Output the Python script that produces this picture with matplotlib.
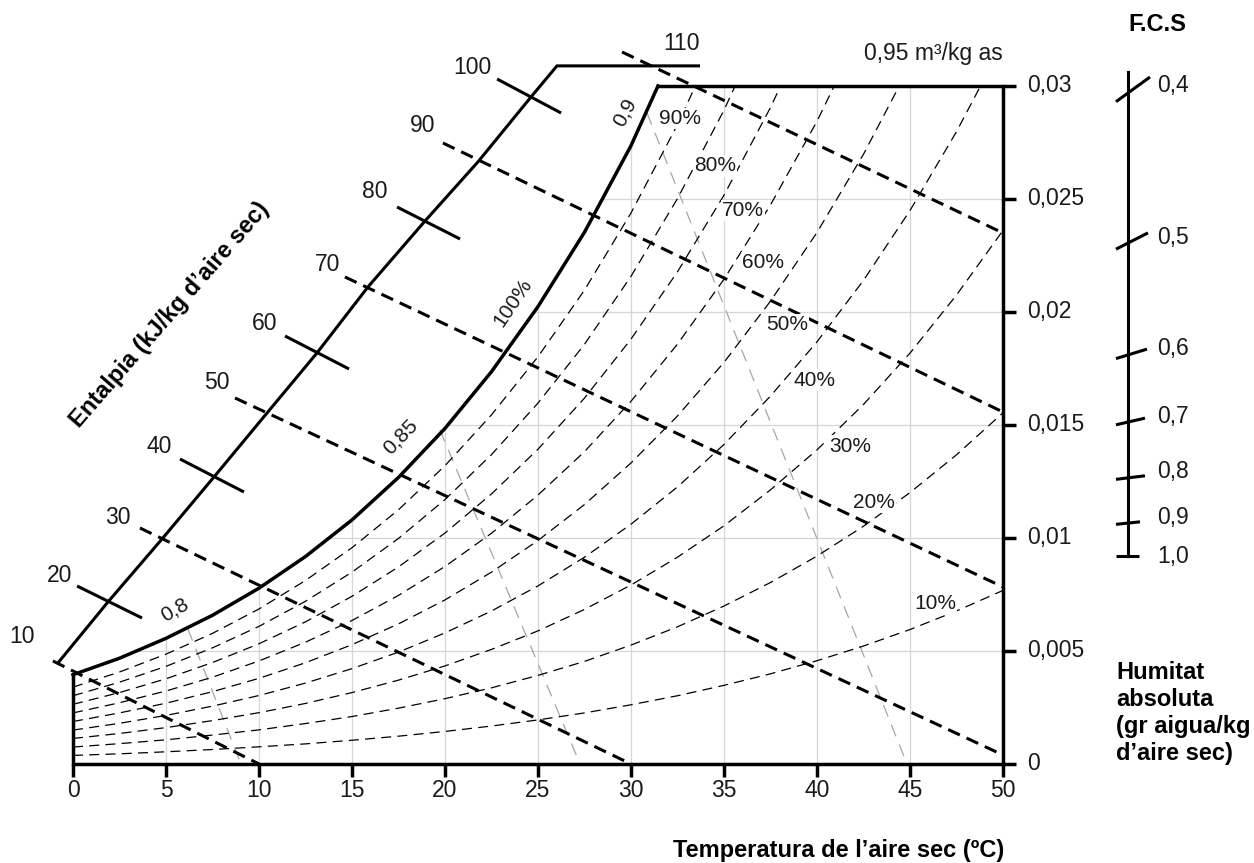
import matplotlib
matplotlib.use("Agg")
import matplotlib.pyplot as plt
from matplotlib.patches import Polygon
import numpy as np

plt.rcParams['font.family'] = ['Liberation Sans', 'DejaVu Sans']

# ---- data ----
# dry bulb temperature grid for the humidity curves (ºC)
t_grid = [0, 2.5, 5, 7.5, 10, 12.5, 15, 17.5, 20, 22.5, 25, 27.5, 30, 32.5, 35,
          37.5, 40, 42.5, 45, 47.5, 50]

# saturation curve (100%), absolute humidity kg/kg
sat_t = [0, 2.5, 5, 7.5, 10, 12.5, 15, 17.5, 20, 22.5, 25, 27.5, 30, 31.45]
sat_w = [0.00395, 0.00468, 0.00556, 0.00658, 0.00778, 0.00918, 0.01080, 0.01268,
         0.01485, 0.01736, 0.02024, 0.02353, 0.02736, 0.03000]

rh_labels = ['90%', '80%', '70%', '60%', '50%', '40%', '30%', '20%', '10%']
rh90 = [0.00340, 0.00407, 0.00486, 0.00578, 0.00686, 0.00812, 0.00957, 0.01125, 0.01320,
        0.01545, 0.01802, 0.02097, 0.02438, 0.02829, 0.03274]
rh80 = [0.00302, 0.00362, 0.00432, 0.00514, 0.00609, 0.00720, 0.00849, 0.00998, 0.01170,
        0.01369, 0.01597, 0.01857, 0.02158, 0.02502, 0.02893, 0.03342]
rh70 = [0.00264, 0.00316, 0.00377, 0.00449, 0.00532, 0.00629, 0.00742, 0.00872, 0.01022,
        0.01195, 0.01393, 0.01619, 0.01880, 0.02178, 0.02517, 0.02905, 0.03344]
rh60 = [0.00226, 0.00271, 0.00323, 0.00384, 0.00456, 0.00539, 0.00635, 0.00746, 0.00874,
        0.01021, 0.01190, 0.01382, 0.01605, 0.01858, 0.02145, 0.02474, 0.02844, 0.03266]
rh50 = [0.00188, 0.00226, 0.00269, 0.00320, 0.00379, 0.00448, 0.00528, 0.00620, 0.00726,
        0.00849, 0.00989, 0.01148, 0.01332, 0.01540, 0.01777, 0.02048, 0.02352, 0.02698,
        0.03091]
rh40 = [0.00150, 0.00180, 0.00215, 0.00256, 0.00303, 0.00358, 0.00422, 0.00495, 0.00580,
        0.00677, 0.00788, 0.00915, 0.01061, 0.01226, 0.01414, 0.01628, 0.01868, 0.02140,
        0.02449, 0.02798, 0.03189]
rh30 = [0.00113, 0.00135, 0.00161, 0.00192, 0.00227, 0.00268, 0.00316, 0.00371, 0.00434,
        0.00507, 0.00589, 0.00684, 0.00792, 0.00915, 0.01054, 0.01213, 0.01390, 0.01591,
        0.01818, 0.02075, 0.02361]
rh20 = [0.00075, 0.00090, 0.00107, 0.00128, 0.00151, 0.00179, 0.00210, 0.00247, 0.00289,
        0.00337, 0.00392, 0.00454, 0.00526, 0.00607, 0.00699, 0.00803, 0.00920, 0.01052,
        0.01201, 0.01368, 0.01554]
rh10 = [0.00038, 0.00045, 0.00054, 0.00064, 0.00076, 0.00089, 0.00105, 0.00123, 0.00144,
        0.00168, 0.00195, 0.00226, 0.00262, 0.00302, 0.00348, 0.00399, 0.00457, 0.00522,
        0.00595, 0.00677, 0.00768]
rh_curves = [rh90, rh80, rh70, rh60, rh50, rh40, rh30, rh20, rh10]

# enthalpy scale (kJ/kg d'aire sec)
scale_t = [-0.81, 1.88, 4.79, 7.58, 10.48, 13.12, 15.86, 18.93, 21.77, 24.62, 26.02, 33.71]
scale_w = [0.00447, 0.00717, 0.00996, 0.01270, 0.01558, 0.01819, 0.02111, 0.02403,
           0.02664, 0.02951, 0.03089, 0.03089]

enth_dashed = ['10', '30', '50', '70', '90', '110']
enth_t0 = [-1.08, 3.60, 8.71, 14.62, 19.89, 29.52]
enth_w0 = [0.004558, 0.010442, 0.016195, 0.021549, 0.027478, 0.031504]
enth_t1 = [10.0, 30.0, 50.0, 50.0, 50.0, 50.0]
enth_w1 = [0.0, 0.0, 0.000398, 0.007832, 0.015575, 0.023496]

enth_ticks = ['20', '40', '60', '80', '100']
tick_t0 = [0.22, 5.75, 11.40, 17.42, 22.80]
tick_w0 = [0.007876, 0.013496, 0.018938, 0.024646, 0.030310]
tick_t1 = [3.71, 9.19, 14.84, 20.81, 26.24]
tick_w1 = [0.006460, 0.012035, 0.017478, 0.023230, 0.028805]

# specific volume lines (m3/kg aire sec)
vol_labels = ['0,8', '0,85', '0,9']
vol_t0 = [6.18, 19.73, 30.86]
vol_w0 = [0.005973, 0.014779, 0.028805]
vol_t1 = [9.03, 27.26, 44.84]
vol_w1 = [0.0, 0.0, 0.0]

# axes
x_ticks = [0, 5, 10, 15, 20, 25, 30, 35, 40, 45, 50]
y_ticks = [0, 0.005, 0.01, 0.015, 0.02, 0.025, 0.03]
y_ticklabels = ['0', '0,005', '0,01', '0,015', '0,02', '0,025', '0,03']

# sensible heat factor scale
fcs_labels = ['0,4', '0,5', '0,6', '0,7', '0,8', '0,9', '1,0']
fcs_w = [0.02969, 0.02305, 0.01810, 0.01513, 0.01266, 0.01066, 0.00920]

# ---- layout ----
enth_label_pos = {'10': (-2.74, 0.00566), '20': (-0.70, 0.00836), '30': (2.42, 0.01089),
                  '40': (4.62, 0.01407), '50': (7.74, 0.01686), '60': (10.32, 0.01947),
                  '70': (13.71, 0.02212), '80': (16.24, 0.02535), '90': (18.82, 0.02827),
                  '100': (21.45, 0.03084), '110': (32.69, 0.03186)}
rh_label_pos = [(32.63, 0.02858), (34.52, 0.02646), (36.02, 0.02451), (37.10, 0.02217),
                (38.39, 0.01943), (39.89, 0.01699), (41.77, 0.01407), (43.06, 0.01159),
                (46.34, 0.00712)]
vol_label_pos = [(5.48, 0.00681, 30), (17.58, 0.01447, 46), (29.68, 0.02885, 62)]
fcs_angle = [36, 27, 17, 13, 7, 6, 0]
fcs_right = [22, 20, 19, 17, 17, 12, 11]
fcs_t = 56.72

xlim = (-3.925, 63.495)
ylim = (-0.004381, 0.033805)
W_PX, H_PX = 1254, 863
px_t = W_PX / (xlim[1] - xlim[0])
px_w = H_PX / (ylim[1] - ylim[0])

fig = plt.figure(figsize=(W_PX / 100, H_PX / 100), dpi=100)
ax = fig.add_axes([0, 0, 1, 1])
ax.set_xlim(*xlim)
ax.set_ylim(*ylim)
ax.axis('off')

THICK = 2.2
GRID_C = '#d6d6d6'
TXT_C = '#1a1a1a'

# clip region: below saturation curve and top line
clip = Polygon(list(zip(sat_t, sat_w)) + [(50, 0.03), (50, 0), (0, 0)],
               closed=True, facecolor='none', edgecolor='none', transform=ax.transData)
ax.add_patch(clip)

# grid
for t in x_ticks[1:-1]:
    ln, = ax.plot([t, t], [0, 0.03], color=GRID_C, lw=0.9, zorder=1)
    ln.set_clip_path(clip)
for w in y_ticks[1:-1]:
    ln, = ax.plot([0, 50], [w, w], color=GRID_C, lw=0.9, zorder=1)
    ln.set_clip_path(clip)

# specific volume lines
for i in range(len(vol_labels)):
    ax.plot([vol_t0[i], vol_t1[i]], [vol_w0[i], vol_w1[i]], color='#a6a6a6', lw=0.9,
            linestyle=(0, (10, 7)), zorder=2)
    x, y, rot = vol_label_pos[i]
    ax.text(x, y, vol_labels[i], fontsize=15, color=TXT_C, rotation=rot,
            ha='center', va='center', rotation_mode='anchor', zorder=6)

# relative humidity curves
for w_list in rh_curves:
    ln, = ax.plot(t_grid[:len(w_list)], w_list, color='black', lw=0.9,
                  linestyle=(0, (8, 5)), zorder=3)
    ln.set_clip_path(clip)
for lab, (x, y) in zip(rh_labels, rh_label_pos):
    ax.text(x, y, lab, fontsize=15, color=TXT_C, ha='center', va='center', zorder=6,
            bbox=dict(boxstyle='square,pad=0.05', fc='white', ec='none'))

# enthalpy lines
for i, h in enumerate(enth_dashed):
    ax.plot([enth_t0[i], enth_t1[i]], [enth_w0[i], enth_w1[i]], color='black', lw=THICK,
            linestyle=(0, (4.2, 2.4)), zorder=4)
for i, h in enumerate(enth_ticks):
    ax.plot([tick_t0[i], tick_t1[i]], [tick_w0[i], tick_w1[i]], color='black', lw=THICK,
            solid_capstyle='butt', zorder=5)
for h, (x, y) in enth_label_pos.items():
    ax.text(x, y, h, fontsize=16.5, color=TXT_C, ha='center', va='center', zorder=6)

# enthalpy scale line
ax.plot(scale_t, scale_w, color='black', lw=THICK, solid_joinstyle='miter',
        solid_capstyle='butt', zorder=5)

# saturation curve and frame
ax.plot(sat_t, sat_w, color='black', lw=THICK + 0.3, solid_joinstyle='round', zorder=5)
ax.plot([0, 0, 50, 50, sat_t[-1]], [sat_w[0], 0, 0, 0.03, 0.03], color='black',
        lw=THICK + 0.3, solid_joinstyle='miter', zorder=5)
ax.text(23.66, 0.02040, '100%', fontsize=15, color=TXT_C, rotation=56,
        ha='center', va='center', rotation_mode='anchor', zorder=6)

# ticks and labels
tick_len = 13
for t in x_ticks:
    ax.plot([t, t], [0, -tick_len / px_w], color='black', lw=THICK + 0.3,
            solid_capstyle='butt', zorder=5)
    ax.text(t, -26.5 / px_w, str(t), fontsize=16.5, color=TXT_C,
            ha='center', va='center')
for w, lab in zip(y_ticks, y_ticklabels):
    ax.plot([50, 50 + tick_len / px_t], [w, w], color='black', lw=THICK + 0.3,
            solid_capstyle='butt', zorder=5)
    ax.text(50 + 24 / px_t, w, lab, fontsize=16.5, color=TXT_C,
            ha='left', va='center')

ax.text(50, 0.03142, '0,95 m³/kg as', fontsize=16.5, color=TXT_C,
        ha='right', va='center')

# F.C.S scale
ax.plot([fcs_t, fcs_t], [0.03062, fcs_w[-1]], color='black', lw=THICK, zorder=5)
for w, lab, ang, r in zip(fcs_w, fcs_labels, fcs_angle, fcs_right):
    s = np.tan(np.radians(ang))
    ax.plot([fcs_t - 12 / px_t, fcs_t + r / px_t],
            [w - 12 * s / px_w, w + r * s / px_w], color='black', lw=THICK,
            solid_capstyle='butt', zorder=5)
ax.text(fcs_t + 29 / px_t, fcs_w[0] + 7 / px_w, fcs_labels[0], fontsize=16.5,
        color=TXT_C, ha='left', va='center')
for w, lab in zip(fcs_w[1:], fcs_labels[1:]):
    ax.text(fcs_t + 29 / px_t, w + 6 / px_w if lab != '1,0' else w, lab, fontsize=16.5,
            color=TXT_C, ha='left', va='center')
ax.text(58.28, 0.03270, 'F.C.S', fontsize=17, fontweight='bold', ha='center', va='center')

# axis titles
ax.text(50.05, -0.00381, 'Temperatura de l’aire sec (ºC)', fontsize=17, fontweight='bold',
        ha='right', va='center')
ax.text(56.08, 0.00224, 'Humitat\nabsoluta\n(gr aigua/kg\nd’aire sec)', fontsize=17,
        fontweight='bold', ha='left', va='center', linespacing=1.22)
ax.text(5.22, 0.01987, 'Entalpia (kJ/kg d’aire sec)', fontsize=17, fontweight='bold',
        rotation=49, ha='center', va='center', rotation_mode='anchor')

fig.savefig('out.png', dpi=100)
